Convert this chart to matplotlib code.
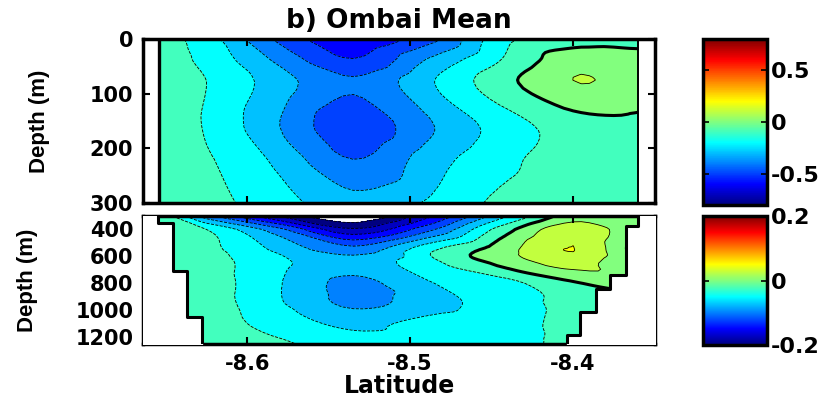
import numpy as np
import matplotlib
matplotlib.use("Agg")
import matplotlib.pyplot as plt
from matplotlib.colors import Normalize, LinearSegmentedColormap
from matplotlib.cm import ScalarMappable
from matplotlib.tri import Triangulation, UniformTriRefiner, CubicTriInterpolator

# station latitudes across the section
lats = [-8.654, -8.625, -8.585, -8.535, -8.485, -8.445, -8.400, -8.360]

# upper layer (0-300 m), mean along-strait velocity
depth_top = [0, 40, 80, 160, 220, 300]
vel_top = [
    [-0.05, -0.16, -0.40, -0.58, -0.42, -0.14, -0.05, -0.06],
    [-0.05, -0.13, -0.30, -0.49, -0.27, -0.10, 0.06, 0.06],
    [-0.05, -0.10, -0.24, -0.385, -0.20, -0.04, 0.097, 0.06],
    [-0.05, -0.11, -0.28, -0.47, -0.30, -0.16, -0.05, -0.03],
    [-0.05, -0.09, -0.21, -0.40, -0.24, -0.13, -0.05, -0.04],
    [-0.04, -0.07, -0.15, -0.26, -0.18, -0.08, -0.05, -0.04],
]

# lower layer (300-1250 m)
depth_bot = [300, 400, 550, 650, 800, 950, 1100, 1250]
vel_bot = [
    [-0.005, -0.09, -0.17, -0.225, -0.15, -0.06, 0.012, 0.012],
    [-0.005, -0.025, -0.085, -0.17, -0.10, -0.015, 0.042, 0.005],
    [-0.005, -0.018, -0.052, -0.09, -0.027, 0.012, 0.0505, -0.012],
    [-0.005, -0.014, -0.042, -0.065, -0.03, 0.005, 0.035, -0.008],
    [-0.004, -0.012, -0.045, -0.082, -0.05, -0.036, -0.003, 0.008],
    [-0.004, -0.012, -0.044, -0.08, -0.06, -0.037, -0.018, -0.01],
    [-0.004, -0.01, -0.035, -0.055, -0.04, -0.033, -0.02, -0.015],
    [-0.004, -0.008, -0.018, -0.04, -0.038, -0.03, -0.022, -0.02],
]

# bathymetry (side walls of the strait)
top_walls = [-8.654, -8.360]
left_wall_depth = [300, 353, 711, 1053, 1250]
left_wall_lat = [-8.6546, -8.6454, -8.6368, -8.6276, -8.6276]
right_wall_depth = [300, 375, 740, 845, 1010, 1180, 1250]
right_wall_lat = [-8.3601, -8.3675, -8.3773, -8.3859, -8.3957, -8.4037, -8.4037]

lat_ticks = [-8.6, -8.5, -8.4]
xlim = (-8.664, -8.3497)

# matlab style jet
mjet = LinearSegmentedColormap("mjet", {
    "red": [(0, 0, 0), (0.375, 0, 0), (0.625, 1, 1), (0.875, 1, 1), (1, 0.5, 0.5)],
    "green": [(0, 0, 0), (0.125, 0, 0), (0.375, 1, 1), (0.625, 1, 1), (0.875, 0, 0), (1, 0, 0)],
    "blue": [(0, 0.5, 0.5), (0.125, 1, 1), (0.375, 1, 1), (0.625, 0, 0), (1, 0, 0)],
})


def smooth_field(xs, ys, vals, subdiv=3):
    """Triangulate the station grid in index space and let matplotlib refine it."""
    nx, ny = len(xs), len(ys)
    ii, jj = np.meshgrid(np.arange(nx, dtype=float), np.arange(ny, dtype=float))
    tris = []
    for j in range(ny - 1):
        for i in range(nx - 1):
            k = j * nx + i
            tris.append([k, k + 1, k + nx + 1])
            tris.append([k, k + nx + 1, k + nx])
    tri = Triangulation(ii.ravel(), jj.ravel(), tris)
    z = np.array(vals, dtype=float).ravel()
    interp = CubicTriInterpolator(tri, z, kind="geom")
    tri_f, z_f = UniformTriRefiner(tri).refine_field(z, triinterpolator=interp, subdiv=subdiv)
    x_f = np.interp(tri_f.x, np.arange(nx), xs)
    y_f = np.interp(tri_f.y, np.arange(ny), ys)
    return Triangulation(x_f, y_f, tri_f.triangles), z_f


def style_axes(ax):
    for sp in ax.spines.values():
        sp.set_linewidth(2.5)
    ax.tick_params(direction="in", top=True, right=True, length=5, width=1.5,
                   labelsize=15, pad=7)


def draw_panel(ax, depth, vel, levels, lim, walls_fn):
    norm = Normalize(-lim, lim)
    # each band is filled with the colour of its lower contour level
    band_colors = [mjet(norm(lv)) for lv in levels[:-1]]
    tri, z = smooth_field(lats, depth, vel)
    ax.tricontourf(tri, z, levels=levels, colors=band_colors)
    thin = [v for v in levels if abs(v) > 1e-9]
    ax.tricontour(tri, z, levels=thin, colors="k", linewidths=0.6)
    ax.tricontour(tri, z, levels=[0], colors="k", linewidths=2.2)
    walls_fn(ax)
    ax.set_xlim(*xlim)
    ax.set_xticks(lat_ticks)
    ax.set_ylim(depth[-1], depth[0])
    ax.set_ylabel("Depth (m)", fontsize=16, family=["Liberation Sans", "DejaVu Sans"])
    style_axes(ax)
    return norm


def top_walls_fn(ax):
    ax.axvline(top_walls[0], color="k", lw=2.4)
    ax.axvline(top_walls[1], color="k", lw=1.4)


def bottom_walls_fn(ax):
    ax.fill_betweenx(left_wall_depth, xlim[0], left_wall_lat, step="post",
                     color="white", zorder=3)
    ax.fill_betweenx(right_wall_depth, right_wall_lat, xlim[1], step="post",
                     color="white", zorder=3)
    ax.plot(left_wall_lat, left_wall_depth, drawstyle="steps-pre",
            color="k", lw=2.2, zorder=4)
    ax.plot(right_wall_lat, right_wall_depth, drawstyle="steps-pre",
            color="k", lw=2.2, zorder=4)


def add_cbar(fig, rect, norm, ticks):
    cax = fig.add_axes(rect)
    cb = fig.colorbar(ScalarMappable(norm=norm, cmap=mjet), cax=cax, ticks=ticks)
    cb.outline.set_linewidth(2.5)
    cax.tick_params(direction="in", left=True, right=True, length=4, width=1.2,
                    labelsize=16, pad=3)
    cax.set_yticklabels([f"{t:g}" for t in ticks])
    return cb


def main():
    plt.rcParams["font.family"] = ["DejaVu Sans"]
    plt.rcParams["font.weight"] = "bold"
    plt.rcParams["axes.labelweight"] = "bold"
    plt.rcParams["axes.titleweight"] = "bold"

    fig = plt.figure(figsize=(8.36, 3.99), dpi=100)
    ax1 = fig.add_axes([0.1711, 0.4912, 0.6124, 0.4110])
    ax2 = fig.add_axes([0.1711, 0.1378, 0.6124, 0.3208])

    top_levels = np.round(np.arange(-0.6, 0.21, 0.1), 3)
    bot_levels = np.round(np.arange(-0.2, 0.076, 0.025), 4)

    norm1 = draw_panel(ax1, depth_top, vel_top, top_levels, 0.8, top_walls_fn)
    ax1.set_yticks([0, 100, 200, 300])
    ax1.tick_params(labelbottom=False)
    ax1.yaxis.set_label_coords(-0.182, 0.5)
    ax1.set_title("b) Ombai Mean", fontsize=19, pad=8)

    norm2 = draw_panel(ax2, depth_bot, vel_bot, bot_levels, 0.2, bottom_walls_fn)
    ax2.set_yticks([400, 600, 800, 1000, 1200])
    ax2.set_xticklabels([f"{t:g}" for t in lat_ticks])
    ax2.yaxis.set_label_coords(-0.205, 0.5)
    ax2.set_xlabel("Latitude", fontsize=17, labelpad=0)

    add_cbar(fig, [0.8409, 0.4862, 0.0766, 0.4160], norm1, [-0.5, 0, 0.5])
    add_cbar(fig, [0.8409, 0.1353, 0.0766, 0.3233], norm2, [-0.2, 0, 0.2])

    fig.savefig("out.png", dpi=100)


if __name__ == "__main__":
    main()
